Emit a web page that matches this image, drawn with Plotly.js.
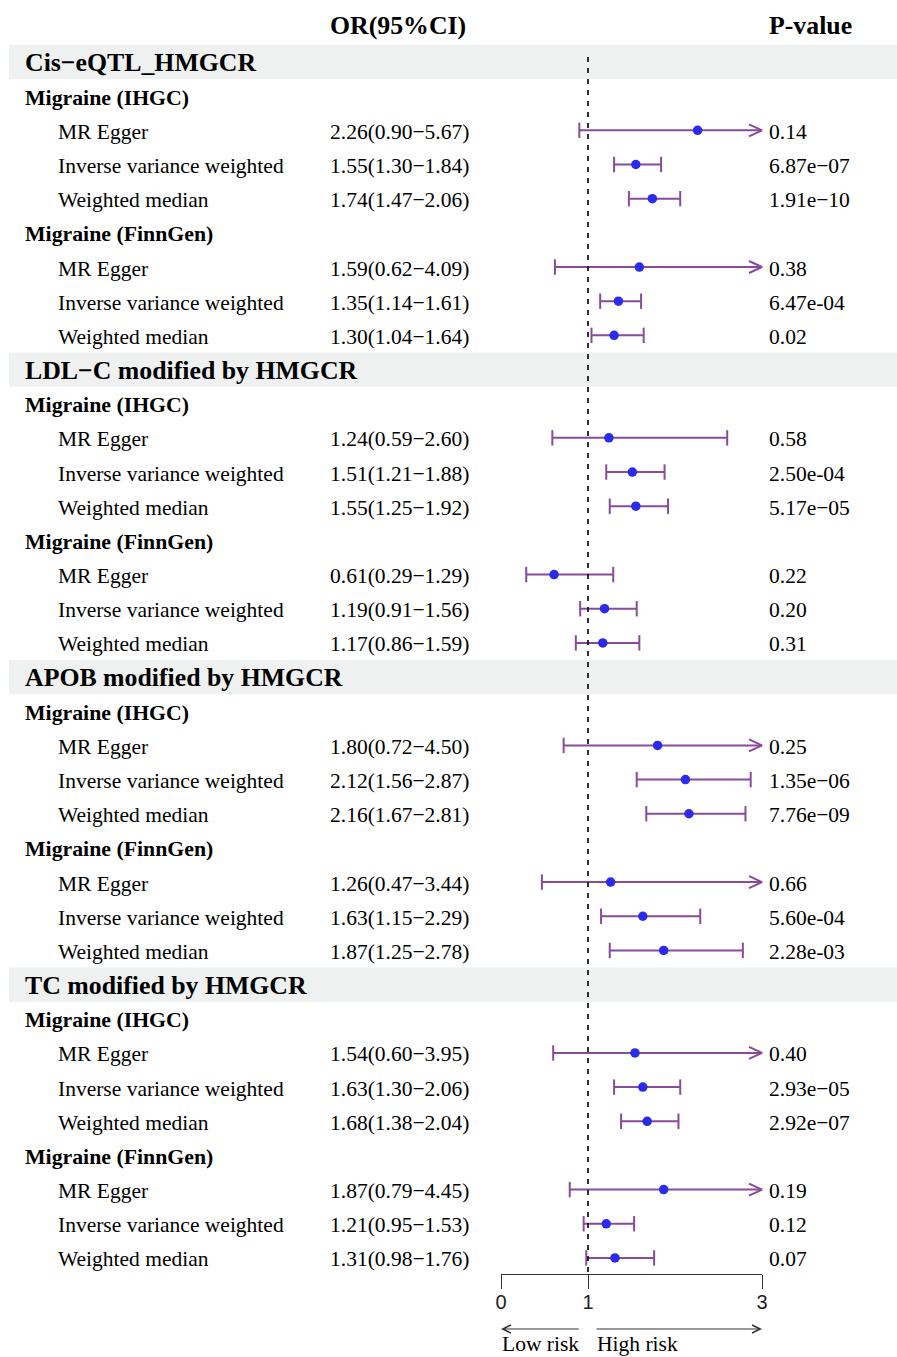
<!DOCTYPE html>
<html>
<head>
<meta charset="utf-8">
<script src="https://cdn.plot.ly/plotly-3.0.1.min.js"></script>
<style>html,body{margin:0;padding:0;background:#fff;}#chart{width:897px;height:1357px;}</style>
</head>
<body>
<div id="chart"></div>
<script>
// ---- data ----
const sections = ["Cis\u2212eQTL_HMGCR", "LDL\u2212C modified by HMGCR", "APOB modified by HMGCR", "TC modified by HMGCR"];
const outcomes = ["Migraine (IHGC)", "Migraine (FinnGen)"];
const methods = ["MR Egger", "Inverse variance weighted", "Weighted median"];

const orVals = [2.26, 1.55, 1.74, 1.59, 1.35, 1.30,
                1.24, 1.51, 1.55, 0.61, 1.19, 1.17,
                1.80, 2.12, 2.16, 1.26, 1.63, 1.87,
                1.54, 1.63, 1.68, 1.87, 1.21, 1.31];
const loVals = [0.90, 1.30, 1.47, 0.62, 1.14, 1.04,
                0.59, 1.21, 1.25, 0.29, 0.91, 0.86,
                0.72, 1.56, 1.67, 0.47, 1.15, 1.25,
                0.60, 1.30, 1.38, 0.79, 0.95, 0.98];
const hiVals = [5.67, 1.84, 2.06, 4.09, 1.61, 1.64,
                2.60, 1.88, 1.92, 1.29, 1.56, 1.59,
                4.50, 2.87, 2.81, 3.44, 2.29, 2.78,
                3.95, 2.06, 2.04, 4.45, 1.53, 1.76];
const pVals = ["0.14", "6.87e\u221207", "1.91e\u221210", "0.38", "6.47e-04", "0.02",
               "0.58", "2.50e-04", "5.17e\u221205", "0.22", "0.20", "0.31",
               "0.25", "1.35e\u221206", "7.76e\u221209", "0.66", "5.60e-04", "2.28e-03",
               "0.40", "2.93e\u221205", "2.92e\u221207", "0.19", "0.12", "0.07"];
const xTicks = [0, 1, 3];
const xMax = 3;

// ---- layout geometry ----
const W = 897, H = 1357;
const rowTop = 62, rowStep = 34.17;
const px0 = 501, px3 = 762;
const unit = (px3 - px0) / 3;
const xr = [-px0 / unit, (W - px0) / unit];
const yr = [(H - rowTop) / rowStep, -rowTop / rowStep];
const rowOfPx = p => (p - rowTop) / rowStep;
const tOff = 1.5 / rowStep;

const PURPLE = "#8A4A9B", BLUE = "#2B2BEE", BAND = "#EEF1F0";
const SERIF = "Liberation Serif, Times New Roman, serif";

const annotations = [], shapes = [];
const rows = [];
function label(text, xpx, y, size) {
  annotations.push({text: text, xref: "paper", yref: "y", x: xpx / W, y: y,
                    xanchor: "left", yanchor: "middle", showarrow: false,
                    font: {family: SERIF, size: size, color: "#000"}});
}
let k = 0;
sections.forEach((s, si) => {
  const base = si * 9;
  shapes.push({type: "rect", xref: "paper", yref: "y", x0: 9 / W, x1: 1, y0: base - 0.5, y1: base + 0.5,
               fillcolor: BAND, line: {width: 0}, layer: "below"});
  label("<b>" + s + "</b>", 23, base + 0.02, 25.8);
  outcomes.forEach((o, oi) => {
    const orow = base + 1 + oi * 4;
    label("<b>" + o + "</b>", 23, orow + tOff, 21.8);
    methods.forEach((m, mi) => {
      const r = orow + 1 + mi;
      rows.push(r);
      label(m, 56, r + tOff, 21.5);
      const txt = orVals[k].toFixed(2) + "(" + loVals[k].toFixed(2) + "\u2212" + hiVals[k].toFixed(2) + ")";
      label(txt, 328, r + tOff, 21.5);
      label(pVals[k], 767, r + tOff, 21.5);
      k++;
    });
  });
});

// headers
label("<b>OR(95%CI)</b>", 328, rowOfPx(25), 25.8);
label("<b>P-value</b>", 767, rowOfPx(25), 25.8);

// risk arrows and labels
const arrowRow = rowOfPx(1329);
annotations.push({text: "", xref: "x", yref: "y", x: 0, y: arrowRow, axref: "x", ayref: "y", ax: 0.91, ay: arrowRow,
                  showarrow: true, arrowhead: 5, arrowsize: 1.6, arrowwidth: 1, arrowcolor: "#333", standoff: 0, startstandoff: 0});
annotations.push({text: "", xref: "x", yref: "y", x: 3, y: arrowRow, axref: "x", ayref: "y", ax: 1.08, ay: arrowRow,
                  showarrow: true, arrowhead: 5, arrowsize: 1.6, arrowwidth: 1, arrowcolor: "#333", standoff: 0, startstandoff: 0});
label("Low risk", 500, rowOfPx(1344), 21.5);
label("High risk", 595, rowOfPx(1344), 21.5);

// ---- traces ----
const ciX = [], ciY = [], arX = [], arY = [], capX = [], capY = [];
const dx = 13 / unit, dy = 6 / rowStep;
rows.forEach((r, i) => {
  const hi = Math.min(hiVals[i], xMax);
  ciX.push(loVals[i], hi, null); ciY.push(r, r, null);
  capX.push(loVals[i]); capY.push(r);
  if (hiVals[i] > xMax) {
    arX.push(xMax - dx, xMax, xMax - dx, null); arY.push(r - dy, r, r + dy, null);
  } else {
    capX.push(hiVals[i]); capY.push(r);
  }
});

const traces = [
  {x: [1, 1], y: [rowOfPx(57), rowOfPx(1272)], xaxis: "x2", yaxis: "y", mode: "lines",
   line: {color: "#1a1a1a", width: 1.8, dash: "5px,6px"}, hoverinfo: "skip"},
  {x: ciX, y: ciY, mode: "lines", line: {color: PURPLE, width: 2}, hoverinfo: "skip"},
  {x: arX, y: arY, mode: "lines", line: {color: PURPLE, width: 2}, hoverinfo: "skip"},
  {x: capX, y: capY, mode: "markers", marker: {symbol: "line-ns", size: 11, line: {color: PURPLE, width: 2}}, hoverinfo: "skip"},
  {x: orVals, y: rows, mode: "markers", marker: {symbol: "circle", size: 9.5, color: BLUE}, hoverinfo: "skip"}
];

const layout = {
  width: W, height: H, margin: {l: 0, r: 0, t: 0, b: 0},
  paper_bgcolor: "#fff", plot_bgcolor: "rgba(0,0,0,0)", showlegend: false,
  xaxis: {domain: [0, 1], range: xr, visible: false, fixedrange: true},
  xaxis2: {domain: [px0 / W, px3 / W], range: [0, 3], anchor: "free", position: 1 - 1274 / H,
           showline: true, linecolor: "#333", linewidth: 1, ticks: "outside", ticklen: 14, tickwidth: 1,
           tickcolor: "#333", tickvals: xTicks, ticktext: xTicks.map(String), showgrid: false, zeroline: false,
           ticklabelstandoff: -4,
           tickfont: {family: "Liberation Sans, Arial, sans-serif", size: 20, color: "#222"}, fixedrange: true},
  yaxis: {domain: [0, 1], range: yr, visible: false, fixedrange: true},
  shapes: shapes, annotations: annotations
};

Plotly.newPlot("chart", traces, layout, {displayModeBar: false, staticPlot: true});
</script>
</body>
</html>
